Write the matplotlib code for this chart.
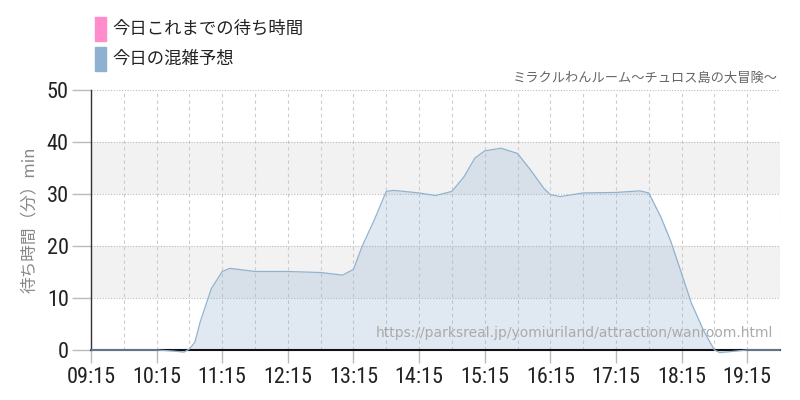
import matplotlib
matplotlib.use("Agg")
import matplotlib.pyplot as plt
from matplotlib.patches import Rectangle
from matplotlib import font_manager

plt.rcParams['font.family'] = ['Noto Sans CJK JP', 'DejaVu Sans']

# forecast wait time (min)
times = ["09:15", "10:15", "10:30", "10:40", "10:45", "10:50", "10:55", "11:05",
         "11:15", "11:22", "11:45", "12:15", "12:45", "13:05", "13:15", "13:23",
         "13:34", "13:45", "13:52", "14:15", "14:30", "14:45", "14:56", "15:06",
         "15:15", "15:30", "15:45", "15:57", "16:09", "16:15", "16:24", "16:45",
         "17:15", "17:37", "17:45", "17:56", "18:05", "18:15", "18:24", "18:35",
         "18:45", "18:50", "19:05", "19:15", "19:45"]
forecast = [0, 0, -0.2, -0.4, 0.2, 1.5, 5.5, 11.8,
            15.1, 15.7, 15.1, 15.1, 14.9, 14.4, 15.5, 20.0,
            25.0, 30.5, 30.7, 30.2, 29.7, 30.5, 33.3, 36.9,
            38.3, 38.8, 37.8, 34.6, 31.1, 29.9, 29.5, 30.2,
            30.3, 30.6, 30.2, 25.6, 21.0, 14.7, 9.0, 3.8,
            0, -0.5, -0.2, 0, 0]

hour_labels = ["09:15", "10:15", "11:15", "12:15", "13:15", "14:15",
               "15:15", "16:15", "17:15", "18:15", "19:15"]
y_ticks = [0, 10, 20, 30, 40, 50]

legend_labels = ["今日これまでの待ち時間", "今日の混雑予想"]
legend_colors = ["#ff8ccb", "#8fb1d0"]
title = "ミラクルわんルーム〜チュロス島の大冒険〜"
url = "https://parksreal.jp/yomiuriland/attraction/wanroom.html"


def to_hours(s):
    h, m = s.split(":")
    return int(h) + int(m) / 60


# condensed font for the numbers if one is around
names = {f.name for f in font_manager.fontManager.ttflist}
num_font, num_size = "Roboto", 14
for cand in ("Roboto Condensed", "Liberation Sans Narrow"):
    if cand in names:
        num_font, num_size = cand, 16
        break

x = [to_hours(t) for t in times]
x0, x1 = to_hours("09:15"), to_hours("19:45")

fig = plt.figure(figsize=(8, 4), dpi=100)
ax = fig.add_axes([0.11375, 0.125, 0.975 - 0.11375, 0.65])

# alternating bands
for lo in (10, 30):
    ax.axhspan(lo, lo + 10, color="#f2f2f2", zorder=0, lw=0)

ax.fill_between(x, forecast, 0, color="#91b2cf", alpha=0.28, lw=0, zorder=2,
                clip_on=False)
ax.plot(x, forecast, color="#91b2cf", lw=0.9, zorder=6, clip_on=False)

ax.set_xlim(x0, x1)
ax.set_ylim(0, 50)

major = [to_hours(t) for t in hour_labels]
minor = [v + 0.5 for v in major]
ax.set_xticks(major)
ax.set_xticklabels(hour_labels)
ax.set_xticks(minor, minor=True)
ax.set_yticks(y_ticks)

ax.tick_params(axis="x", which="major", length=9, color="#bbbbbb", width=1,
               labelsize=num_size, labelcolor="#222222", pad=3)
ax.tick_params(axis="x", which="minor", length=0)
ax.tick_params(axis="y", length=14, color="#bbbbbb", width=1,
               labelsize=num_size, labelcolor="#222222", pad=2)
for lbl in ax.get_xticklabels() + ax.get_yticklabels():
    lbl.set_family([num_font, "DejaVu Sans"])

ax.grid(axis="x", which="both", color="#cccccc", ls=(0, (3, 3)), lw=0.8, zorder=1)
ax.grid(axis="y", color="#bbbbbb", ls=(0, (1, 1.5)), lw=0.8, zorder=1)
ax.set_axisbelow(True)

for side in ("top", "right"):
    ax.spines[side].set_visible(False)
ax.spines["left"].set_color("#333333")
ax.spines["left"].set_linewidth(1)
ax.spines["bottom"].set_color("#111111")
ax.spines["bottom"].set_linewidth(1.5)
ax.spines["bottom"].set_zorder(5)

ax.set_ylabel("待ち時間（分）min", color="#888888", fontsize=12, labelpad=6)

# legend drawn at top-left
for i, (lab, col) in enumerate(zip(legend_labels, legend_colors)):
    ytop = 17 + i * 30
    fig.patches.append(Rectangle((95 / 800, 1 - (ytop + 24) / 400), 11 / 800, 24 / 400,
                                 transform=fig.transFigure, color=col))
    fig.text(112 / 800, 1 - (ytop + 12) / 400, lab, fontsize=12.5, color="#222222",
             va="center", ha="left")

fig.text(778 / 800, 1 - 78 / 400, title, fontsize=9.5, color="#666666",
         ha="right", va="center")
ax.text(0.99, 0.04, url, transform=ax.transAxes, fontsize=10, color="#aaaaaa",
        ha="right", va="bottom", family=["DejaVu Sans"], zorder=6)

fig.savefig("out.png", dpi=100)
